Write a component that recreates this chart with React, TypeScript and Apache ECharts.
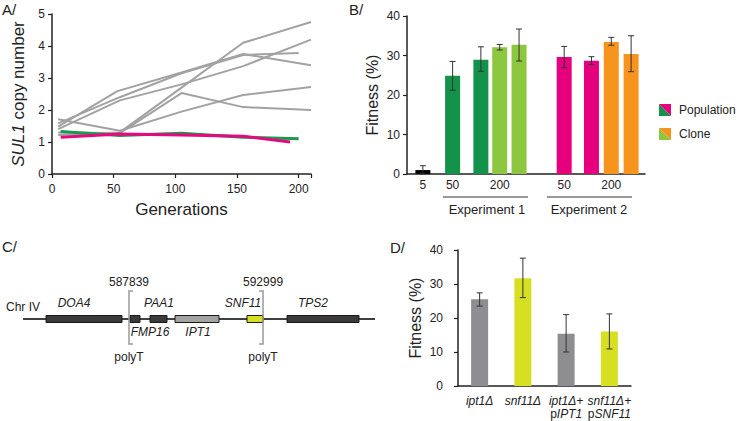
import React, { useEffect, useRef } from 'react';
import * as echarts from 'echarts';

const FONT = '"Liberation Sans", Arial, Helvetica, sans-serif';

// ---------- Panel A: SUL1 copy number ----------
const grayGenerations = [
  [5, 55, 105, 155, 200],
  [5, 55, 105, 155, 210],
  [5, 55, 105, 155, 210],
  [5, 53, 105, 155, 210],
  [5, 55, 105, 155, 210],
  [5, 55, 105, 155, 210],
];
const grayCopyNumbers = [
  [1.58, 2.4, 3.15, 3.72, 3.78],
  [1.22, 1.3, 2.7, 4.1, 4.75],
  [1.4, 2.3, 2.8, 3.37, 4.2],
  [1.48, 2.59, 3.17, 3.75, 3.4],
  [1.71, 1.35, 1.95, 2.47, 2.72],
  [1.3, 1.28, 2.53, 2.09, 2.0],
];
const greenGenerations = [7, 55, 105, 155, 200];
const greenCopyNumbers = [1.33, 1.2, 1.27, 1.15, 1.1];
const magentaGenerations = [7, 55, 105, 155, 193];
const magentaCopyNumbers = [1.15, 1.25, 1.22, 1.18, 1.0];

// ---------- Panel B: fitness of populations / clones ----------
const bPositions = [1.6, 4.6, 7.45, 9.35, 11.3, 15.85, 18.6, 20.6, 22.6];
const bValues = [1.0, 24.9, 28.9, 32.1, 32.7, 29.6, 28.7, 33.4, 30.4];
const bErrLow = [0, 21.2, 26.0, 31.4, 28.6, 26.9, 27.7, 32.6, 25.9];
const bErrHigh = [2.1, 28.5, 32.2, 32.8, 36.7, 32.3, 29.7, 34.6, 35.0];
const bColors = ['#000000', '#13924a', '#13924a', '#8dc63f', '#8dc63f', '#e6007e', '#e6007e', '#f7941d', '#f7941d'];
const bTickPositions = [1.6, 4.6, 9.35, 15.85, 20.6];
const bTickLabels = ['5', '50', '200', '50', '200'];
const bGroupLabels = ['Experiment 1', 'Experiment 2'];
const bLegendLabels = ['Population', 'Clone'];

// ---------- Panel C: Chr IV region ----------
const chrStart = 583758;
const chrEnd = 597310;
const geneNames = ['DOA4', 'FMP16', 'PAA1', 'IPT1', 'SNF11', 'TPS2'];
const geneStarts = [584644, 587878, 588648, 589610, 592382, 593922];
const geneEnds = [587570, 588263, 589302, 591304, 592998, 596694];
const geneLabelPos = [585722, 588648, 588994, 590496, 592228, 594923];
const geneLabelAbove = [1, 0, 1, 0, 1, 1];
const geneColors = ['#3a3a3a', '#3a3a3a', '#3a3a3a', '#a3a3a3', '#d7df23', '#3a3a3a'];
const breakpoints = [587839, 592999];
const breakpointSides = [-1, 1];

// ---------- Panel D: deletion fitness ----------
const dCategories = ['ipt1Δ', 'snf11Δ', 'ipt1Δ+\npIPT1', 'snf11Δ+\npSNF11'];
const dValues = [25.5, 31.7, 15.4, 16.0];
const dErrLow = [23.5, 26.0, 10.0, 10.9];
const dErrHigh = [27.4, 37.6, 21.0, 21.2];
const dColors = ['#8e8e90', '#d7df23', '#8e8e90', '#d7df23'];

const AXIS_COLOR = '#222';
const TEXT_COLOR = '#222';

function errorRender(params: any, api: any) {
  const x = api.value(0);
  const lo = api.coord([x, api.value(1)]);
  const hi = api.coord([x, api.value(2)]);
  const cap = 3;
  const style = { stroke: '#333', lineWidth: 1 };
  return {
    type: 'group',
    children: [
      { type: 'line', shape: { x1: hi[0], y1: hi[1], x2: lo[0], y2: lo[1] }, style },
      { type: 'line', shape: { x1: hi[0] - cap, y1: hi[1], x2: hi[0] + cap, y2: hi[1] }, style },
      { type: 'line', shape: { x1: lo[0] - cap, y1: lo[1], x2: lo[0] + cap, y2: lo[1] }, style },
    ],
  };
}

export default function App() {
  const ref = useRef<HTMLDivElement>(null);

  useEffect(() => {
    if (!ref.current) return;
    const chart = echarts.init(ref.current, undefined, { renderer: 'svg' });

    const grayColor = '#a2a2a2';
    const series: any[] = [];

    grayCopyNumbers.forEach((vals, i) => {
      series.push({
        type: 'line',
        xAxisIndex: 0,
        yAxisIndex: 0,
        data: vals.map((v, j) => [grayGenerations[i][j], v]),
        symbol: 'none',
        lineStyle: { color: grayColor, width: 2 },
        z: 2,
      });
    });
    series.push({
      type: 'line',
      xAxisIndex: 0,
      yAxisIndex: 0,
      data: greenCopyNumbers.map((v, j) => [greenGenerations[j], v]),
      symbol: 'none',
      lineStyle: { color: '#1a9a4c', width: 3 },
      z: 3,
    });
    series.push({
      type: 'line',
      xAxisIndex: 0,
      yAxisIndex: 0,
      data: magentaCopyNumbers.map((v, j) => [magentaGenerations[j], v]),
      symbol: 'none',
      lineStyle: { color: '#e5097f', width: 3 },
      z: 4,
    });

    // Panel B bars
    series.push({
      type: 'bar',
      xAxisIndex: 1,
      yAxisIndex: 1,
      barWidth: 15,
      data: bValues.map((v, i) => ({ value: [bPositions[i], v], itemStyle: { color: bColors[i] } })),
      z: 2,
    });
    series.push({
      type: 'custom',
      xAxisIndex: 1,
      yAxisIndex: 1,
      renderItem: errorRender,
      data: bValues.map((_, i) => [bPositions[i], bErrLow[i], bErrHigh[i]]),
      z: 5,
    });

    // Panel C chromosome
    series.push({
      type: 'line',
      xAxisIndex: 2,
      yAxisIndex: 2,
      data: [[chrStart, 0], [chrEnd, 0]],
      symbol: 'none',
      lineStyle: { color: '#000', width: 1.5 },
      z: 1,
    });
    series.push({
      type: 'custom',
      xAxisIndex: 2,
      yAxisIndex: 2,
      clip: false,
      renderItem: (params: any, api: any) => {
        const i = params.dataIndex;
        const s = api.coord([api.value(0), 0]);
        const e = api.coord([api.value(1), 0]);
        const l = api.coord([api.value(2), 0]);
        const above = geneLabelAbove[i] === 1;
        return {
          type: 'group',
          children: [
            {
              type: 'rect',
              shape: { x: s[0], y: s[1] - 3.5, width: e[0] - s[0], height: 7 },
              style: { fill: geneColors[i], stroke: '#1a1a1a', lineWidth: 1 },
            },
            {
              type: 'text',
              x: l[0],
              y: above ? s[1] - 16 : s[1] + 13,
              style: {
                text: geneNames[i],
                fontFamily: FONT,
                fontSize: 12,
                fontStyle: 'italic',
                fill: TEXT_COLOR,
                align: 'center',
                verticalAlign: 'middle',
              },
            },
          ],
        };
      },
      data: geneNames.map((_, i) => [geneStarts[i], geneEnds[i], geneLabelPos[i]]),
      z: 3,
    });
    series.push({
      type: 'custom',
      xAxisIndex: 2,
      yAxisIndex: 2,
      clip: false,
      renderItem: (params: any, api: any) => {
        const i = params.dataIndex;
        const p = api.coord([api.value(0), 0]);
        const side = breakpointSides[i];
        const arm = 4 * -side;
        const top = p[1] - 28;
        const bottom = p[1] + 25;
        return {
          type: 'group',
          children: [
            {
              type: 'polyline',
              shape: { points: [[p[0] + arm, top], [p[0], top], [p[0], bottom], [p[0] + arm, bottom]] },
              style: { stroke: '#9a9a9a', lineWidth: 1.5, fill: 'none' },
            },
            {
              type: 'text',
              x: p[0],
              y: p[1] - 37,
              style: { text: String(breakpoints[i]), fontFamily: FONT, fontSize: 12, fill: TEXT_COLOR, align: 'center', verticalAlign: 'middle' },
            },
            {
              type: 'text',
              x: p[0],
              y: p[1] + 38,
              style: { text: 'polyT', fontFamily: FONT, fontSize: 12, fill: TEXT_COLOR, align: 'center', verticalAlign: 'middle' },
            },
          ],
        };
      },
      data: breakpoints.map((b) => [b]),
      z: 4,
    });

    // Panel D
    series.push({
      type: 'bar',
      xAxisIndex: 3,
      yAxisIndex: 3,
      barWidth: 17,
      data: dValues.map((v, i) => ({ value: v, itemStyle: { color: dColors[i] } })),
      z: 2,
    });
    series.push({
      type: 'custom',
      xAxisIndex: 3,
      yAxisIndex: 3,
      renderItem: errorRender,
      data: dValues.map((_, i) => [i, dErrLow[i], dErrHigh[i]]),
      z: 5,
    });

    const axisLine = { lineStyle: { color: AXIS_COLOR, width: 1.5 } };
    const axisTick = { length: 4, lineStyle: { color: AXIS_COLOR, width: 1.2 } };
    const axisLabel = { color: TEXT_COLOR, fontSize: 12, fontFamily: FONT };

    const option: any = {
      animation: false,
      textStyle: { fontFamily: FONT },
      grid: [
        { left: 52, top: 14, width: 259, height: 160 },
        { left: 407, top: 16, width: 238, height: 158 },
        { left: 23, top: 289, width: 352, height: 60 },
        { left: 458, top: 250, width: 173, height: 136 },
      ],
      xAxis: [
        {
          gridIndex: 0,
          type: 'value',
          min: 0,
          max: 210,
          interval: 50,
          axisLine,
          axisTick,
          splitLine: { show: false },
          axisLabel: {
            ...axisLabel,
            margin: 9,
            formatter: (v: number) => (v <= 200 ? String(v) : ''),
          },
          name: 'Generations',
          nameLocation: 'middle',
          nameGap: 27,
          nameTextStyle: { fontSize: 17, color: TEXT_COLOR, fontFamily: FONT },
        },
        {
          gridIndex: 1,
          type: 'value',
          min: 0,
          max: 24,
          axisLine,
          axisTick: { show: false },
          splitLine: { show: false },
          axisLabel: {
            ...axisLabel,
            margin: 5,
            customValues: bTickPositions,
            formatter: (v: number) => {
              const k = bTickPositions.indexOf(v);
              return k >= 0 ? bTickLabels[k] : '';
            },
          },
        },
        { gridIndex: 2, type: 'value', min: chrStart, max: chrEnd, show: false },
        {
          gridIndex: 3,
          type: 'category',
          data: dCategories,
          axisLine,
          axisTick,
          axisLabel: {
            ...axisLabel,
            margin: 8,
            interval: 0,
            formatter: (v: string) => {
              const parts = v.split('\n');
              let s = `{i|${parts[0]}}`;
              if (parts[1]) s += `\n{n|p}{i|${parts[1].slice(1)}}`;
              return s;
            },
            rich: {
              i: { fontStyle: 'italic', fontSize: 12, fontFamily: FONT, color: TEXT_COLOR, lineHeight: 13 },
              n: { fontSize: 12, fontFamily: FONT, color: TEXT_COLOR, lineHeight: 13 },
            },
          },
        },
      ],
      yAxis: [
        {
          gridIndex: 0,
          type: 'value',
          min: 0,
          max: 5,
          interval: 1,
          axisLine: { show: true, ...axisLine },
          axisTick: { show: true, ...axisTick },
          splitLine: { show: false },
          axisLabel: { ...axisLabel, margin: 7 },
          name: '{i|SUL1} copy number',
          nameLocation: 'middle',
          nameGap: 25,
          nameTextStyle: {
            fontSize: 17,
            color: TEXT_COLOR,
            fontFamily: FONT,
            rich: { i: { fontStyle: 'italic', fontSize: 17, color: TEXT_COLOR, fontFamily: FONT } },
          },
        },
        {
          gridIndex: 1,
          type: 'value',
          min: 0,
          max: 40,
          interval: 10,
          axisLine: { show: true, ...axisLine },
          axisTick: { show: true, ...axisTick },
          splitLine: { show: false },
          axisLabel: { ...axisLabel, margin: 7 },
          name: 'Fitness (%)',
          nameLocation: 'middle',
          nameGap: 27,
          nameTextStyle: { fontSize: 16, color: TEXT_COLOR, fontFamily: FONT },
        },
        { gridIndex: 2, type: 'value', min: -1, max: 1, show: false },
        {
          gridIndex: 3,
          type: 'value',
          min: 0,
          max: 40,
          interval: 10,
          axisLine: { show: true, ...axisLine },
          axisTick: { show: true, ...axisTick },
          splitLine: { show: false },
          axisLabel: { ...axisLabel, margin: 15 },
          name: 'Fitness (%)',
          nameLocation: 'middle',
          nameGap: 35,
          nameTextStyle: { fontSize: 16, color: TEXT_COLOR, fontFamily: FONT },
        },
      ],
      graphic: [
        { type: 'text', left: 2, top: 2, style: { text: 'A/', fontSize: 15, fontFamily: FONT, fill: TEXT_COLOR } },
        { type: 'text', left: 349, top: 2, style: { text: 'B/', fontSize: 15, fontFamily: FONT, fill: TEXT_COLOR } },
        { type: 'text', left: 2, top: 239, style: { text: 'C/', fontSize: 15, fontFamily: FONT, fill: TEXT_COLOR } },
        { type: 'text', left: 390, top: 240, style: { text: 'D/', fontSize: 15, fontFamily: FONT, fill: TEXT_COLOR } },
        { type: 'text', x: 23, y: 307, style: { text: 'Chr IV', fontSize: 12, fontFamily: FONT, fill: TEXT_COLOR, align: 'center', verticalAlign: 'middle' } },
        { type: 'line', shape: { x1: 443, y1: 197, x2: 528, y2: 197 }, style: { stroke: '#333', lineWidth: 1.2 } },
        { type: 'line', shape: { x1: 547, y1: 197, x2: 632, y2: 197 }, style: { stroke: '#333', lineWidth: 1.2 } },
        { type: 'text', x: 487, y: 209, style: { text: bGroupLabels[0], fontSize: 13, fontFamily: FONT, fill: TEXT_COLOR, align: 'center', verticalAlign: 'middle' } },
        { type: 'text', x: 589, y: 209, style: { text: bGroupLabels[1], fontSize: 13, fontFamily: FONT, fill: TEXT_COLOR, align: 'center', verticalAlign: 'middle' } },
        { type: 'polygon', shape: { points: [[659, 104], [659, 116], [671, 116]] }, style: { fill: '#13924a' } },
        { type: 'polygon', shape: { points: [[659, 104], [671, 104], [671, 116]] }, style: { fill: '#e6007e' } },
        { type: 'polygon', shape: { points: [[659, 128], [659, 140], [671, 140]] }, style: { fill: '#8dc63f' } },
        { type: 'polygon', shape: { points: [[659, 128], [671, 128], [671, 140]] }, style: { fill: '#f7941d' } },
        { type: 'text', x: 679, y: 110, style: { text: bLegendLabels[0], fontSize: 12, fontFamily: FONT, fill: TEXT_COLOR, verticalAlign: 'middle' } },
        { type: 'text', x: 679, y: 134, style: { text: bLegendLabels[1], fontSize: 12, fontFamily: FONT, fill: TEXT_COLOR, verticalAlign: 'middle' } },
      ],
      series,
    };

    chart.setOption(option);
    return () => chart.dispose();
  }, []);

  return <div ref={ref} style={{ width: 739, height: 421, position: 'absolute', left: 0, top: 0, background: '#fff' }} />;
}
